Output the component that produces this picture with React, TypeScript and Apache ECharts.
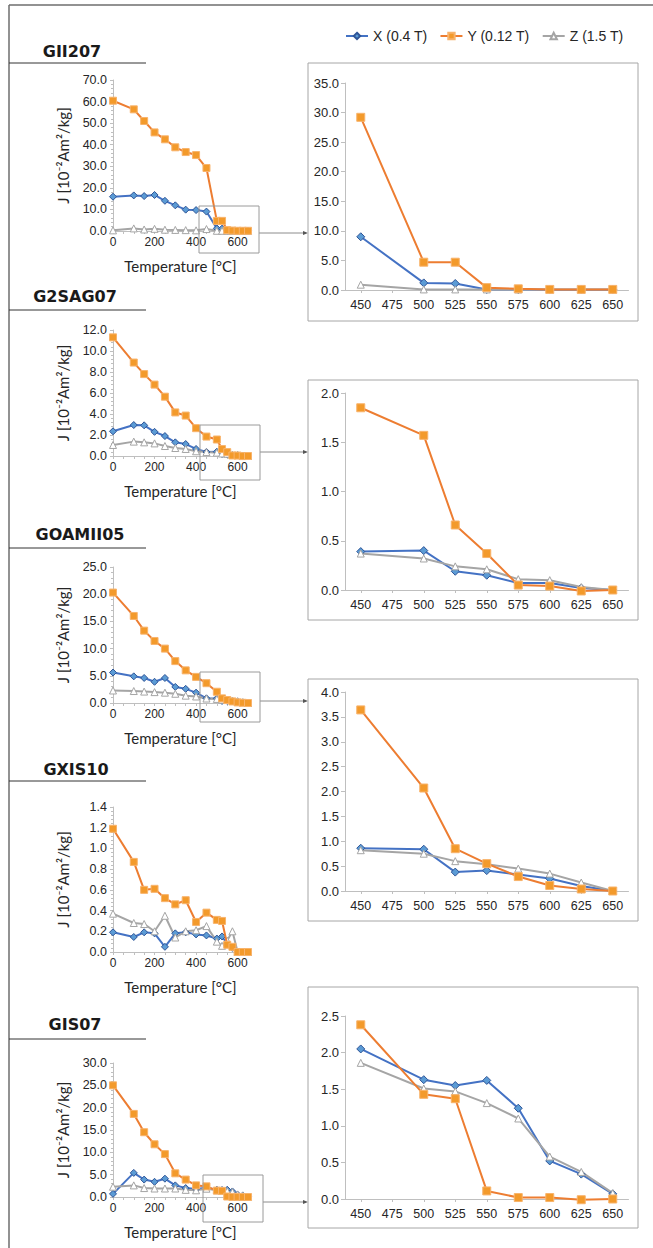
import React, { useEffect, useRef } from 'react';
import * as echarts from 'echarts';

// ---------- data ----------
const temps = [0, 100, 150, 200, 250, 300, 350, 400, 450, 500, 525, 550, 575, 600, 625, 650];
const zoomCategories = ['450', '475', '500', '525', '550', '575', '600', '625', '650'];
const seriesNames = ['X (0.4 T)', 'Y (0.12 T)', 'Z (1.5 T)'];
const sampleNames = ['GII207', 'G2SAG07', 'GOAMII05', 'GXIS10', 'GIS07'];

const gii207X = [15.9, 16.5, 16.2, 16.7, 14.0, 11.9, 9.9, 9.7, 9.0, 1.2, 1.1, 0.1, 0.1, 0.05, 0.05, 0.05];
const gii207Y = [60.4, 56.4, 51.0, 45.7, 42.5, 38.8, 36.6, 35.2, 29.2, 4.7, 4.7, 0.4, 0.2, 0.1, 0.1, 0.1];
const gii207Z = [0.3, 1.2, 0.7, 1.0, 0.6, 0.5, 0.4, 0.3, 0.9, 0.1, 0.1, 0.1, 0.1, 0.1, 0.1, 0.1];

const g2sag07X = [2.35, 2.95, 2.92, 2.3, 1.9, 1.3, 1.14, 0.67, 0.39, 0.4, 0.19, 0.15, 0.07, 0.07, 0.02, 0.0];
const g2sag07Y = [11.3, 8.9, 7.8, 6.8, 5.65, 4.15, 3.85, 2.65, 1.85, 1.57, 0.66, 0.37, 0.05, 0.04, -0.01, 0.0];
const g2sag07Z = [1.05, 1.37, 1.3, 1.2, 0.95, 0.76, 0.67, 0.45, 0.37, 0.32, 0.24, 0.21, 0.11, 0.1, 0.03, 0.0];

const goamii05X = [5.6, 4.9, 4.6, 3.9, 4.6, 2.95, 2.6, 1.9, 0.86, 0.84, 0.38, 0.41, 0.33, 0.25, 0.1, 0.0];
const goamii05Y = [20.3, 16.0, 13.3, 11.4, 10.0, 7.7, 6.0, 4.8, 3.64, 2.07, 0.85, 0.55, 0.29, 0.11, 0.04, 0.0];
const goamii05Z = [2.3, 2.2, 2.1, 2.0, 1.9, 1.7, 1.35, 1.2, 0.82, 0.75, 0.6, 0.54, 0.45, 0.35, 0.17, 0.0];

const gxis10X = [0.19, 0.145, 0.19, 0.18, 0.05, 0.18, 0.19, 0.17, 0.16, 0.13, 0.15, 0.08, 0.04, 0.0, 0.0, 0.0];
const gxis10Y = [1.19, 0.87, 0.6, 0.61, 0.52, 0.46, 0.5, 0.29, 0.38, 0.31, 0.3, 0.07, 0.05, 0.0, 0.0, 0.0];
const gxis10Z = [0.37, 0.28, 0.27, 0.2, 0.35, 0.14, 0.2, 0.21, 0.25, 0.1, 0.06, 0.11, 0.2, 0.0, 0.0, 0.0];

const gis07X = [0.7, 5.4, 3.9, 3.4, 4.1, 2.6, 2.0, 1.8, 2.05, 1.63, 1.55, 1.62, 1.24, 0.52, 0.34, 0.07];
const gis07Y = [25.0, 18.6, 14.5, 11.8, 9.6, 5.3, 3.9, 2.6, 2.38, 1.43, 1.37, 0.11, 0.02, 0.02, -0.01, 0.0];
const gis07Z = [2.3, 2.6, 2.0, 1.9, 1.9, 1.9, 1.6, 1.5, 1.86, 1.51, 1.47, 1.31, 1.1, 0.58, 0.37, 0.08];

const sampleData = [
  [gii207X, gii207Y, gii207Z],
  [g2sag07X, g2sag07Y, g2sag07Z],
  [goamii05X, goamii05Y, goamii05Z],
  [gxis10X, gxis10Y, gxis10Z],
  [gis07X, gis07Y, gis07Z],
];

const yMax = [70, 12, 25, 1.4, 30];
const yStep = [10, 2, 5, 0.2, 5];
const zoomedSamples = [0, 1, 2, 4];
const zoomYMax = [35, 2.0, 4.0, 2.5];
const zoomYStep = [5, 0.5, 0.5, 0.5];

// ---------- layout / style ----------
const leftGrids = [
  { top: 80, height: 151 },
  { top: 330, height: 126 },
  { top: 567, height: 136 },
  { top: 807, height: 145 },
  { top: 1063, height: 134 },
];
const rightGrids = [
  { top: 83, height: 207 },
  { top: 393, height: 197 },
  { top: 692, height: 199 },
  { top: 1016, height: 183 },
];
const titleX = [72, 75, 80, 76, 75];
const titleY = [51, 296, 534, 769, 1024];
const underlineY = [63, 310, 548, 781, 1039];
const insetBoxes = [
  { x: 199, y: 206, w: 60, h: 47, ly: 233 },
  { x: 200, y: 425, w: 60, h: 55, ly: 452 },
  { x: 200, y: 672, w: 60, h: 50, ly: 701 },
  { x: 203, y: 1175, w: 60, h: 47, ly: 1202 },
];
const panelBoxes = [
  { y: 63, h: 258 },
  { y: 380, h: 240 },
  { y: 679, h: 242 },
  { y: 987, h: 241 },
];

const FONT = '"Liberation Sans", Arial, sans-serif';
const AXIS_GRAY = '#BFBFBF';
const TEXT = '#262626';

const seriesStyles = [
  {
    symbol: 'diamond',
    size: [7, 8],
    lineStyle: { color: '#4472C4', width: 2 },
    itemStyle: { color: '#5B9BD5', borderColor: '#2F5597', borderWidth: 1 },
  },
  {
    symbol: 'rect',
    size: [7, 8],
    lineStyle: { color: '#ED7D31', width: 2 },
    itemStyle: { color: '#F39A2B', borderColor: '#F8B36B', borderWidth: 1 },
  },
  {
    symbol: 'triangle',
    size: [7, 7],
    lineStyle: { color: '#A5A5A5', width: 2 },
    itemStyle: { color: '#FFFFFF', borderColor: '#A5A5A5', borderWidth: 1 },
  },
];

function buildOption() {
  const grid: any[] = [];
  const xAxis: any[] = [];
  const yAxis: any[] = [];
  const series: any[] = [];

  leftGrids.forEach((g, i) => {
    grid.push({ left: 113, width: 135, top: g.top, height: g.height });
    xAxis.push({
      type: 'value',
      gridIndex: i,
      min: 0,
      max: 650,
      interval: 50,
      axisLine: { show: true, lineStyle: { color: AXIS_GRAY } },
      axisTick: { show: true, length: 3, lineStyle: { color: AXIS_GRAY } },
      axisLabel: {
        formatter: (v: number) => (v % 200 === 0 ? String(v) : ''),
        fontSize: 12,
        color: TEXT,
        margin: 5,
        fontFamily: FONT,
      },
      splitLine: { show: false },
      name: 'Temperature [°C]',
      nameLocation: 'middle',
      nameGap: 27,
      nameTextStyle: { fontSize: 15, fontFamily: 'Lato', color: TEXT },
    });
    yAxis.push({
      type: 'value',
      gridIndex: i,
      min: 0,
      max: yMax[i],
      interval: yStep[i],
      axisLine: { show: true, lineStyle: { color: AXIS_GRAY } },
      axisTick: { show: true, length: 3, lineStyle: { color: AXIS_GRAY } },
      minorTick: { show: true, splitNumber: 5, length: 2, lineStyle: { color: AXIS_GRAY } },
      axisLabel: {
        formatter: (v: number) => v.toFixed(1),
        fontSize: 12.5,
        color: TEXT,
        margin: 6,
        fontFamily: FONT,
      },
      splitLine: { show: false },
      name: 'J [10⁻²Am²/kg]',
      nameLocation: 'middle',
      nameRotate: 90,
      nameGap: 43,
      nameTextStyle: { fontSize: 15, fontFamily: 'Lato', color: TEXT },
    });
    sampleData[i].forEach((vals, s) => {
      const st = seriesStyles[s];
      series.push({
        type: 'line',
        name: seriesNames[s],
        xAxisIndex: i,
        yAxisIndex: i,
        data: temps.map((t, k) => [t, vals[k]]),
        symbol: st.symbol,
        symbolSize: st.size[0],
        showAllSymbol: true,
        lineStyle: st.lineStyle,
        itemStyle: st.itemStyle,
        clip: false,
        z: 2 + (s === 1 ? 1 : 0),
      });
    });
  });

  rightGrids.forEach((g, j) => {
    const gi = leftGrids.length + j;
    const sIdx = zoomedSamples[j];
    grid.push({ left: 345, width: 283.5, top: g.top, height: g.height });
    xAxis.push({
      type: 'category',
      gridIndex: gi,
      data: zoomCategories,
      boundaryGap: true,
      axisLine: { show: true, lineStyle: { color: AXIS_GRAY } },
      axisTick: { show: true, alignWithLabel: true, length: 3, lineStyle: { color: AXIS_GRAY } },
      axisLabel: { fontSize: 12.5, color: TEXT, margin: 8, fontFamily: FONT, interval: 0 },
      splitLine: { show: false },
    });
    yAxis.push({
      type: 'value',
      gridIndex: gi,
      min: 0,
      max: zoomYMax[j],
      interval: zoomYStep[j],
      axisLine: { show: true, lineStyle: { color: AXIS_GRAY } },
      axisTick: { show: true, length: 4, lineStyle: { color: AXIS_GRAY } },
      axisLabel: {
        formatter: (v: number) => v.toFixed(1),
        fontSize: 13,
        color: TEXT,
        margin: 6,
        fontFamily: FONT,
      },
      splitLine: { show: false },
    });
    sampleData[sIdx].forEach((vals, s) => {
      const st = seriesStyles[s];
      series.push({
        type: 'line',
        name: seriesNames[s],
        xAxisIndex: gi,
        yAxisIndex: gi,
        data: zoomCategories.map((c) => {
          const k = temps.indexOf(Number(c));
          return k >= 0 ? vals[k] : null;
        }),
        connectNulls: true,
        symbol: st.symbol,
        symbolSize: st.size[1],
        showAllSymbol: true,
        lineStyle: st.lineStyle,
        itemStyle: st.itemStyle,
        clip: false,
        z: 2 + (s === 1 ? 1 : 0),
      });
    });
  });

  const graphic: any[] = [];
  // outer frame
  graphic.push({ type: 'line', shape: { x1: 9, y1: 5, x2: 653, y2: 5 }, style: { stroke: '#6E6E6E', lineWidth: 1.5 } });
  graphic.push({ type: 'line', shape: { x1: 9, y1: 5, x2: 9, y2: 1248 }, style: { stroke: '#6E6E6E', lineWidth: 1.5 } });
  // titles
  sampleNames.forEach((name, i) => {
    graphic.push({
      type: 'text',
      x: titleX[i],
      y: titleY[i],
      style: {
        text: name,
        font: 'bold 16px "DejaVu Sans", sans-serif',
        fill: '#1A1A1A',
        align: 'center',
        verticalAlign: 'middle',
      },
    });
    graphic.push({
      type: 'line',
      shape: { x1: 9, y1: underlineY[i], x2: 146, y2: underlineY[i] },
      style: { stroke: '#333', lineWidth: 1 },
    });
  });
  // inset boxes, connectors, panel boxes
  insetBoxes.forEach((b, j) => {
    graphic.push({
      type: 'rect',
      shape: { x: b.x, y: b.y, width: b.w, height: b.h },
      style: { fill: 'none', stroke: '#9A9A9A', lineWidth: 1 },
      z: 10,
    });
    graphic.push({
      type: 'line',
      shape: { x1: b.x + b.w, y1: b.ly, x2: 304, y2: b.ly },
      style: { stroke: '#8C8C8C', lineWidth: 1 },
    });
    graphic.push({
      type: 'polygon',
      shape: { points: [[308, b.ly], [303, b.ly - 2], [303, b.ly + 2]] },
      style: { fill: '#555' },
    });
    const p = panelBoxes[j];
    graphic.push({
      type: 'rect',
      shape: { x: 308, y: p.y, width: 330, height: p.h },
      style: { fill: 'none', stroke: '#A6A6A6', lineWidth: 1 },
    });
  });

  return {
    animation: false,
    textStyle: { fontFamily: FONT },
    legend: {
      data: seriesNames,
      left: 340,
      top: 24,
      itemWidth: 22,
      itemHeight: 8,
      itemGap: 12,
      textStyle: { fontSize: 14, color: TEXT, fontFamily: FONT },
    },
    grid,
    xAxis,
    yAxis,
    series,
    graphic,
  };
}

export default function App() {
  const ref = useRef<HTMLDivElement>(null);
  useEffect(() => {
    if (!ref.current) return;
    const chart = echarts.init(ref.current, null, { renderer: 'svg' });
    chart.setOption(buildOption() as any);
    return () => chart.dispose();
  }, []);
  return (
    <div
      ref={ref}
      style={{ position: 'absolute', left: 0, top: 0, width: 653, height: 1248, background: '#fff' }}
    />
  );
}
